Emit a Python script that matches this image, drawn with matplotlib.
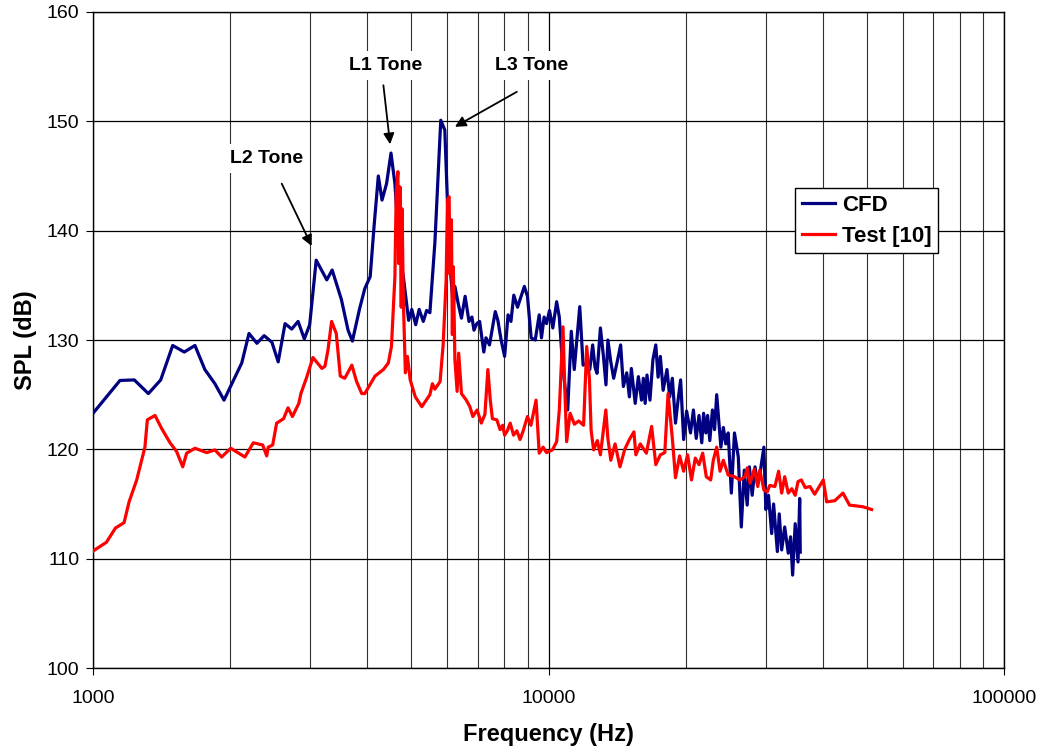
import matplotlib
matplotlib.use('Agg')
import matplotlib.pyplot as plt
from matplotlib.ticker import FixedLocator, NullFormatter, FuncFormatter

plt.rcParams['font.family'] = ['Liberation Sans', 'DejaVu Sans']

# CFD spectrum (Hz, dB)
cfd_f = [1000, 1146, 1232, 1323, 1408, 1496, 1586, 1674, 1760, 1852, 1939, 2121, 2200, 2290,
         2375, 2470, 2550, 2640, 2730, 2820, 2910, 2990, 3090, 3260, 3350, 3510, 3630, 3710,
         3850, 3950, 4060, 4140, 4230, 4310, 4410, 4510, 4600, 4710, 4800, 4930, 5010, 5110,
         5200, 5310, 5400, 5490, 5630, 5800, 5920, 5990, 6080, 6180, 6230, 6330, 6440, 6560,
         6690, 6790, 6860, 6960, 7060, 7210, 7290, 7420, 7510, 7640, 7740, 7870, 8010, 8150,
         8270, 8390, 8550, 8850, 8990, 9160, 9350, 9540, 9650, 9780, 9900, 10050, 10220, 10420,
         10560, 10740, 11020, 11220, 11390, 11710, 11910, 12130, 12320, 12500, 12650, 12780,
         13000, 13200, 13370, 13500, 13700, 13900, 14150, 14400, 14600, 14850, 15050, 15200,
         15500, 15750, 16000, 16150, 16300, 16450, 16700, 16950, 17200, 17400, 17600, 17850,
         18200, 18450, 18700, 19000, 19250, 19500, 19800, 20100, 20500, 20800, 21100, 21400,
         21700, 21900, 22150, 22350, 22600, 22900, 23150, 23400, 23900, 24200, 24500, 24800,
         25200, 25600, 26100, 26500, 26900, 27300, 27600, 28000, 28400, 28800, 29200, 29700,
         30000, 30400, 30900, 31200, 31800, 32100, 32500, 33000, 33600, 34000, 34350, 34800,
         35300, 35600, 35700]
cfd_spl = [123.3, 126.3, 126.35, 125.1, 126.35, 129.5, 128.9, 129.5, 127.3, 126.0, 124.5, 127.9,
           130.6, 129.7, 130.4, 129.8, 128.0, 131.5, 131.0, 131.7, 130.1, 131.4, 137.3, 135.5,
           136.4, 133.7, 130.9, 129.9, 132.9, 134.7, 135.8, 140.4, 145.0, 142.8, 144.3, 147.1,
           144.3, 137.9, 135.8, 131.8, 132.8, 131.4, 132.8, 131.7, 132.7, 132.5, 138.9, 150.1,
           149.2, 143.4, 136.7, 133.1, 134.9, 133.4, 132.0, 134.0, 131.7, 132.1, 130.9, 131.5,
           131.7, 128.9, 130.2, 129.55, 130.8, 132.6, 131.8, 130.0, 128.5, 132.3, 131.7, 134.1,
           133.0, 134.9, 134.0, 130.2, 130.0, 132.3, 130.2, 132.1, 131.5, 132.7, 131.1, 133.5,
           132.1, 127.6, 123.6, 130.8, 127.3, 133.05, 127.7, 127.9, 127.3, 129.55, 127.5, 126.95,
           131.1, 128.5, 125.9, 130.0, 128.0, 126.5, 128.0, 129.55, 125.75, 127.0, 124.8, 127.4,
           124.2, 126.65, 124.5, 126.5, 124.2, 126.8, 124.5, 128.2, 129.55, 126.6, 128.5, 125.4,
           127.3, 124.8, 126.5, 122.4, 124.5, 126.35, 120.9, 123.5, 121.5, 123.6, 121.0, 123.1,
           120.6, 123.3, 121.5, 123.1, 120.8, 123.6, 121.8, 125.0, 120.2, 122.0, 120.5, 121.5,
           116.0, 121.5, 119.3, 112.9, 118.1, 114.9, 118.4, 115.8, 118.4, 116.8, 118.1, 120.2,
           114.5, 115.8, 112.3, 115.0, 110.65, 114.1, 110.8, 112.9, 110.5, 112.0, 108.5, 113.2,
           109.7, 115.5, 110.6]

# Test [10] spectrum (Hz, dB)
test_f = [1000, 1070, 1120, 1170, 1200, 1247, 1300, 1316, 1368, 1415, 1476, 1526, 1574, 1605,
          1674, 1777, 1852, 1916, 2006, 2155, 2249, 2358, 2406, 2425, 2480, 2530, 2620, 2680,
          2740, 2830, 2860, 2940, 3040, 3180, 3230, 3280, 3340, 3420, 3490, 3570, 3700, 3790,
          3890, 3950, 4160, 4340, 4450, 4520, 4600, 4630, 4670, 4690, 4720, 4750, 4770, 4800,
          4850, 4900, 4970, 5100, 5270, 5490, 5560, 5630, 5780, 5870, 5960, 6000, 6050, 6080,
          6120, 6150, 6180, 6230, 6300, 6350, 6440, 6600, 6720, 6820, 6970, 7120, 7250, 7360,
          7450, 7530, 7700, 7830, 7930, 8010, 8120, 8240, 8380, 8520, 8660, 8800, 8990, 9150,
          9390, 9540, 9730, 9900, 10200, 10420, 10560, 10760, 10850, 10960, 11150, 11400, 11650,
          11940, 12130, 12300, 12400, 12560, 12800, 13000, 13360, 13500, 13700, 14000, 14350,
          14700, 15050, 15400, 15550, 15900, 16400, 16840, 17200, 17600, 18000, 18300, 18700,
          19000, 19400, 19800, 20200, 20600, 21000, 21400, 21800, 22200, 22700, 23000, 23400,
          23800, 24200, 24800, 25600, 26300, 27000, 27300, 27700, 28300, 28800, 29100, 29700,
          30200, 30600, 31400, 32000, 32500, 33000, 33600, 34200, 34800, 35300, 35900, 36600,
          37500, 38400, 40100, 40800, 42500, 44300, 45800, 49000, 51200]
test_spl = [110.7, 111.5, 112.8, 113.3, 115.2, 117.2, 120.2, 122.7, 123.1, 121.9, 120.6, 119.8,
            118.4, 119.65, 120.1, 119.7, 119.95, 119.3, 120.1, 119.3, 120.6, 120.4, 119.4, 120.2,
            120.4, 122.4, 122.8, 123.8, 123.0, 124.2, 125.1, 126.5, 128.4, 127.4, 127.6, 129.1,
            131.7, 130.6, 126.7, 126.5, 127.7, 126.2, 125.1, 125.1, 126.7, 127.3, 127.9, 129.4,
            135.8, 143.4, 145.4, 137.0, 144.0, 133.0, 142.0, 133.7, 127.0, 128.5, 126.35, 124.8,
            123.9, 125.0, 126.0, 125.5, 126.2, 129.55, 135.5, 142.8, 143.1, 136.0, 141.0, 130.5,
            136.7, 128.2, 125.3, 128.8, 125.1, 124.5, 123.9, 123.0, 123.6, 122.4, 123.2, 127.3,
            124.5, 122.8, 122.7, 121.8, 122.2, 121.3, 121.7, 122.4, 121.3, 121.7, 120.9, 121.7,
            123.0, 122.2, 124.5, 119.65, 120.2, 119.7, 119.95, 120.7, 123.6, 131.2, 126.0, 120.7,
            123.3, 122.3, 122.6, 122.2, 129.4, 126.35, 121.8, 119.95, 120.8, 119.5, 123.6, 121.0,
            119.0, 120.5, 118.4, 120.0, 120.9, 121.6, 119.5, 120.5, 119.65, 122.1, 118.6, 119.5,
            119.7, 125.1, 121.0, 117.4, 119.4, 118.0, 119.5, 117.2, 119.2, 118.6, 119.65, 117.5,
            117.2, 119.0, 120.2, 118.0, 119.0, 117.65, 117.5, 117.2, 117.5, 118.3, 116.9, 118.2,
            116.6, 118.1, 116.3, 116.1, 116.7, 116.6, 118.0, 116.0, 117.5, 116.0, 116.4, 115.8,
            117.05, 117.2, 116.5, 116.6, 115.9, 117.2, 115.2, 115.3, 116.0, 114.9, 114.75, 114.5]

# tone labels: text, text position, arrow tail, arrow head (Hz, dB)
tones = ['L2 Tone', 'L1 Tone', 'L3 Tone']
tone_text = [(2410, 146.6), (4380, 155.1), (9200, 155.1)]
tone_tail = [(2596, 144.3), (4340, 153.3), (8520, 152.7)]
tone_head = [(3020, 138.6), (4490, 147.9), (6230, 149.5)]

fig = plt.figure(figsize=(10.44, 7.5), dpi=100)
ax = fig.add_axes([0.0891, 0.1093, 0.8726, 0.8747])

ax.plot(cfd_f, cfd_spl, color='#000080', lw=2.3, label='CFD', zorder=3)
ax.plot(test_f, test_spl, color='#FF0000', lw=2.3, label='Test [10]', zorder=3)

ax.set_xscale('log')
ax.set_xlim(1000, 100000)
ax.set_ylim(100, 160)
ax.set_yticks(range(100, 161, 10))
ax.xaxis.set_major_locator(FixedLocator([1000, 10000, 100000]))
ax.xaxis.set_major_formatter(FuncFormatter(lambda v, p: '%d' % v))
ax.xaxis.set_minor_locator(FixedLocator([d * k for d in (1000, 10000) for k in range(2, 10)]))
ax.xaxis.set_minor_formatter(NullFormatter())

ax.grid(True, which='major', axis='both', color='black', lw=0.9)
ax.grid(True, which='minor', axis='x', color='#303030', lw=0.8)
ax.set_axisbelow(True)

ax.tick_params(axis='x', which='major', direction='out', length=5, pad=11, labelsize=14)
ax.tick_params(axis='x', which='minor', length=0)
ax.tick_params(axis='y', direction='out', length=5, pad=5, labelsize=14)
for s in ax.spines.values():
    s.set_color('black')
    s.set_linewidth(1)

ax.set_xlabel('Frequency (Hz)', fontsize=17, fontweight='bold', labelpad=11)
ax.set_ylabel('SPL (dB)', fontsize=17, fontweight='bold', labelpad=7)

for name, tp, tail, head in zip(tones, tone_text, tone_tail, tone_head):
    ax.text(tp[0], tp[1], name, fontsize=14, fontweight='bold', ha='center', va='center',
            bbox=dict(facecolor='white', edgecolor='none', pad=4), zorder=4)
    ax.annotate('', xy=head, xytext=tail,
                arrowprops=dict(arrowstyle='-|>', color='black', lw=1.3, mutation_scale=16,
                                shrinkA=0, shrinkB=0), zorder=4)

leg = ax.legend(loc='upper left', bbox_to_anchor=(0.7706, 0.7317), borderaxespad=0,
                prop={'weight': 'bold', 'size': 16}, fancybox=False, framealpha=1,
                edgecolor='black', handlelength=1.5, handletextpad=0.3,
                labelspacing=0.45, borderpad=0.3)
leg.get_frame().set_linewidth(1)

fig.savefig('out.png', dpi=100)
